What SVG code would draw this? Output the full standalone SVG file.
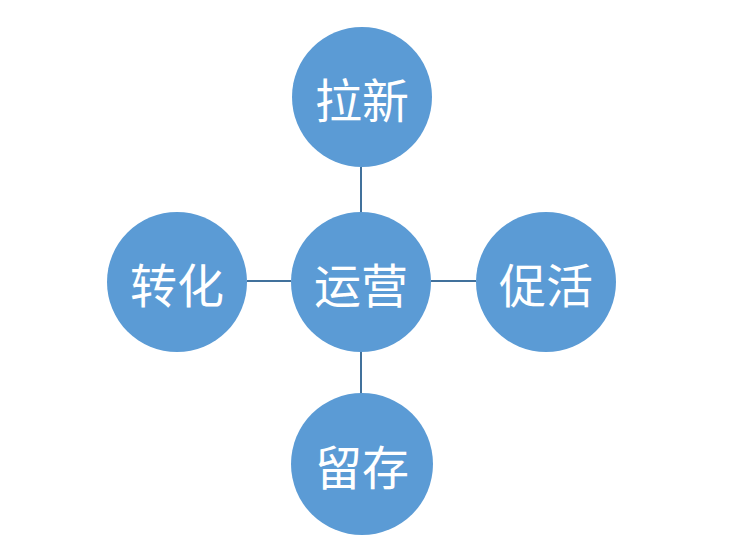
<svg xmlns="http://www.w3.org/2000/svg" width="755" height="552" viewBox="0 0 755 552">
<style>
.n{fill:#5b9bd5;}
.t{fill:#ffffff;font-family:"Microsoft YaHei","Noto Sans CJK SC",sans-serif;font-size:47px;text-anchor:middle;dominant-baseline:central;}
.c{stroke:#41719c;stroke-width:2;fill:none;}
</style>
<rect width="755" height="552" fill="#ffffff"/>
<g id="connectors">
<line class="c" x1="361" y1="167" x2="361" y2="213"/>
<line class="c" x1="361" y1="351" x2="361" y2="394"/>
<line class="c" x1="247" y1="281" x2="291" y2="281"/>
<line class="c" x1="431" y1="281" x2="476" y2="281"/>
</g>
<g id="n_top"><circle class="n" cx="362" cy="97" r="70"/><text class="t" x="362" y="97">拉新</text></g>
<g id="n_center"><circle class="n" cx="361" cy="282" r="70"/><text class="t" x="361" y="282">运营</text></g>
<g id="n_left"><circle class="n" cx="177" cy="282" r="70"/><text class="t" x="177" y="282">转化</text></g>
<g id="n_right"><circle class="n" cx="546" cy="282" r="70"/><text class="t" x="546" y="282">促活</text></g>
<g id="n_bottom"><circle class="n" cx="362" cy="464" r="71"/><text class="t" x="362" y="464">留存</text></g>
</svg>
